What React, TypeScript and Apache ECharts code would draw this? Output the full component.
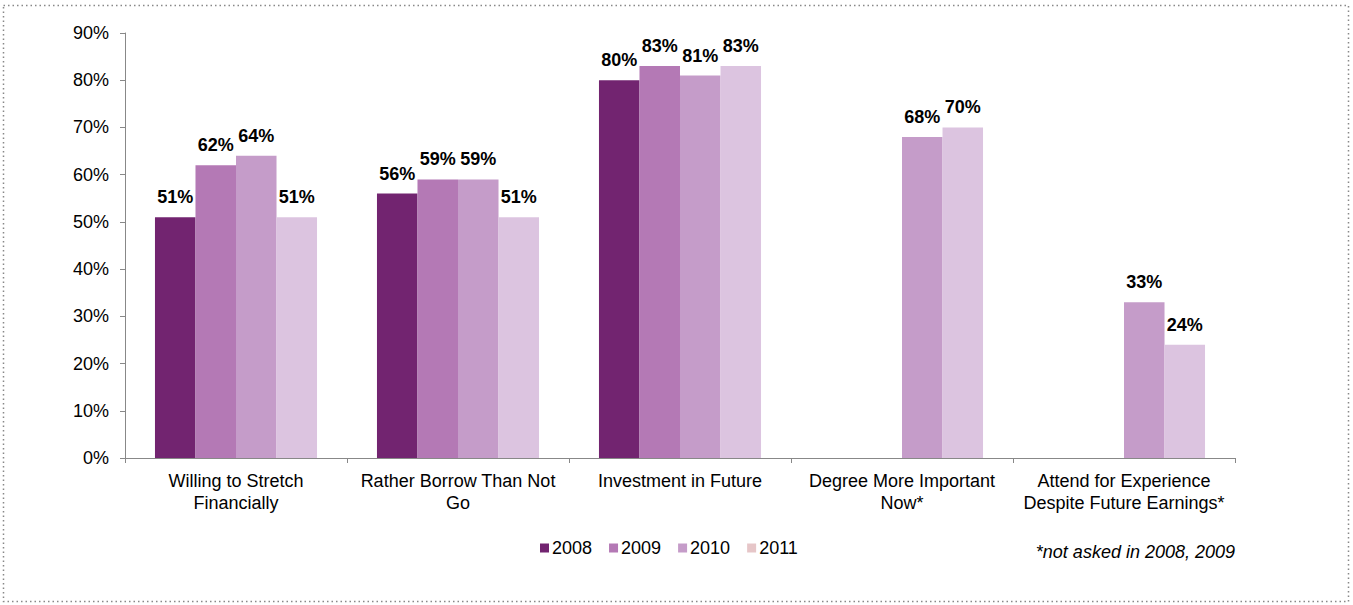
import React, { useEffect, useRef } from "react";
import * as echarts from "echarts";

const categories = [
  "Willing to Stretch\nFinancially",
  "Rather Borrow Than Not\nGo",
  "Investment in Future",
  "Degree More Important\nNow*",
  "Attend for Experience\nDespite Future Earnings*",
];
const years = ["2008", "2009", "2010", "2011"];
const v2008 = [51, 56, 80, null, null];
const v2009 = [62, 59, 83, null, null];
const v2010 = [64, 59, 81, 68, 33];
const v2011 = [51, 51, 83, 70, 24];
const yTicks = [0, 10, 20, 30, 40, 50, 60, 70, 80, 90];
const footnote = "*not asked in 2008, 2009";

const barColors = ["#722470", "#b479b5", "#c59cc9", "#dcc4e0"];
const legendColors = ["#722470", "#b479b5", "#c59cc9", "#e6c6c8"];

export default function App() {
  const ref = useRef<HTMLDivElement>(null);
  useEffect(() => {
    if (!ref.current) return;
    const chart = echarts.init(ref.current, null, { renderer: "svg" });
    const values = [v2008, v2009, v2010, v2011];
    const font = "Liberation Sans, Arial, sans-serif";
    chart.setOption({
      animation: false,
      textStyle: { fontFamily: font },
      grid: { left: 125, right: 118, top: 33, bottom: 147 },
      legend: {
        left: 535,
        top: 534,
        itemWidth: 9,
        itemHeight: 9,
        itemGap: 17,
        icon: "rect",
        textStyle: { fontSize: 18, color: "#000", fontFamily: font, padding: [0, 0, 0, -2] },
        data: years.map((y, i) => ({ name: y, itemStyle: { color: legendColors[i] } })),
      },
      xAxis: {
        type: "category",
        data: categories,
        axisLine: { lineStyle: { color: "#888" } },
        axisTick: { show: true, length: 5, lineStyle: { color: "#888" } },
        axisLabel: { fontSize: 18, color: "#000", lineHeight: 22, margin: 12, interval: 0 },
      },
      yAxis: {
        type: "value",
        min: 0,
        max: 90,
        interval: 10,
        axisLine: { show: true, lineStyle: { color: "#888" } },
        axisTick: { show: true, length: 5, lineStyle: { color: "#888" } },
        splitLine: { show: false },
        axisLabel: {
          fontSize: 18,
          color: "#000",
          margin: 16,
          formatter: (v: number) => (yTicks.includes(v) ? v + "%" : ""),
        },
      },
      series: years.map((y, i) => ({
        name: y,
        type: "bar",
        data: values[i],
        barGap: "0%",
        barCategoryGap: "27%",
        itemStyle: { color: barColors[i] },
        label: {
          show: true,
          position: "top",
          distance: 11,
          fontSize: 18,
          fontWeight: "bold",
          color: "#000",
          formatter: (p: any) => (p.value == null ? "" : p.value + "%"),
        },
      })),
      graphic: [
        {
          type: "rect",
          shape: { x: 3.5, y: 5.5, width: 1345, height: 596 },
          style: { fill: "none", stroke: "#888", lineWidth: 1.5, lineDash: [1.5, 3] },
          silent: true,
        },
        {
          type: "text",
          right: 118,
          top: 543,
          style: {
            text: footnote,
            font: "italic 18px Liberation Sans, Arial, sans-serif",
            fill: "#000",
          },
        },
      ],
    });
    return () => chart.dispose();
  }, []);
  return (
    <div
      ref={ref}
      style={{ position: "fixed", left: 0, top: 0, width: 1353, height: 605, background: "#fff" }}
    />
  );
}
